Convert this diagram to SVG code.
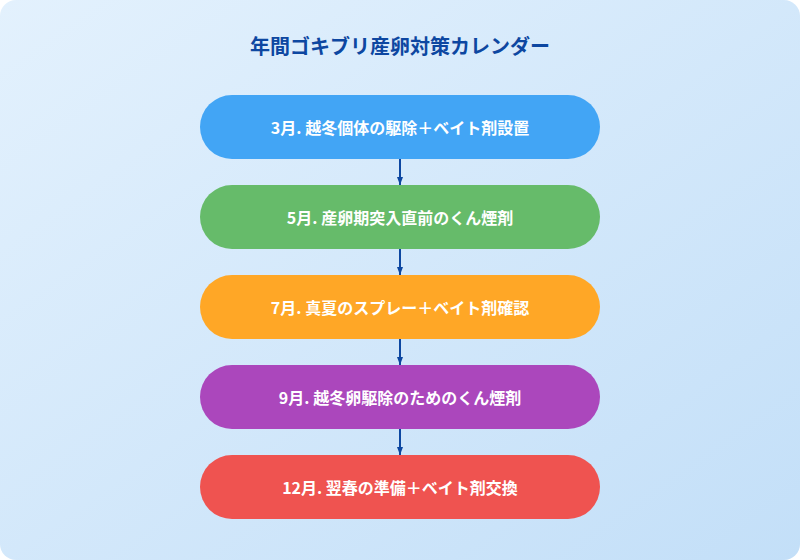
<svg xmlns="http://www.w3.org/2000/svg" width="800" height="560" viewBox="0 0 800 560">
<defs>
<linearGradient id="bg" x1="0" y1="0" x2="1" y2="1"><stop offset="0" stop-color="#e3f1fd"/><stop offset="1" stop-color="#c3dff8"/></linearGradient>
<marker id="ah" markerWidth="8" markerHeight="6" refX="8" refY="3" orient="auto" markerUnits="userSpaceOnUse"><path d="M0,0 L8,3 L0,6 Z" fill="#0d47a1"/></marker>
<style>
.t{font-family:"Noto Sans CJK JP","Noto Sans",sans-serif;font-weight:bold;fill:#fff;font-size:16px;text-anchor:middle;dominant-baseline:central}
.c{stroke:#0d47a1;stroke-width:2;fill:none;marker-end:url(#ah)}
</style>
</defs>
<rect width="800" height="560" rx="16" fill="url(#bg)"/>
<text x="400" y="45" style="font-family:'Noto Sans CJK JP',sans-serif;font-weight:bold;font-size:20px;fill:#0d47a1;text-anchor:middle;dominant-baseline:central">年間ゴキブリ産卵対策カレンダー</text>
<g id="connectors">
<line class="c" x1="400" y1="159" x2="400" y2="185"/>
<line class="c" x1="400" y1="249" x2="400" y2="275"/>
<line class="c" x1="400" y1="339" x2="400" y2="365"/>
<line class="c" x1="400" y1="429" x2="400" y2="455"/>
</g>
<g id="n1"><rect x="200" y="95" width="400" height="64" rx="32" fill="#42a5f5"/><text class="t" x="400" y="127">3月. 越冬個体の駆除＋ベイト剤設置</text></g>
<g id="n2"><rect x="200" y="185" width="400" height="64" rx="32" fill="#66bb6a"/><text class="t" x="400" y="217">5月. 産卵期突入直前のくん煙剤</text></g>
<g id="n3"><rect x="200" y="275" width="400" height="64" rx="32" fill="#ffa726"/><text class="t" x="400" y="307">7月. 真夏のスプレー＋ベイト剤確認</text></g>
<g id="n4"><rect x="200" y="365" width="400" height="64" rx="32" fill="#ab47bc"/><text class="t" x="400" y="397">9月. 越冬卵駆除のためのくん煙剤</text></g>
<g id="n5"><rect x="200" y="455" width="400" height="64" rx="32" fill="#ef5350"/><text class="t" x="400" y="487">12月. 翌春の準備＋ベイト剤交換</text></g>
</svg>
